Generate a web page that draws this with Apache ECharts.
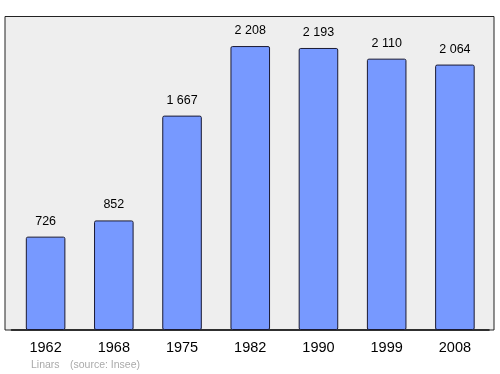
<!DOCTYPE html>
<html><head><meta charset="utf-8">
<script src="https://cdn.jsdelivr.net/npm/echarts@6/dist/echarts.min.js"></script>
<style>html,body{margin:0;padding:0;background:#fff}#c{width:500px;height:374px}</style>
</head><body><div id="c"></div>
<script>
const years = ['1962','1968','1975','1982','1990','1999','2008'];
const population = [726, 852, 1667, 2208, 2193, 2110, 2064];
const fmt = v => String(v).replace(/\B(?=(\d{3})+(?!\d))/g, ' ');
const chart = echarts.init(document.getElementById('c'), null, {renderer:'canvas'});
chart.setOption({
  animation:false,
  backgroundColor:'#ffffff',
  grid:[
    {left:5, right:6, top:16.5, bottom:44, show:true, backgroundColor:'#eeeeee', borderColor:'#222222', borderWidth:1},
    {left:11.5, right:11, top:8.5, bottom:44}
  ],
  xAxis:[
    {gridIndex:0, type:'value', show:false},
    {gridIndex:1, type:'category', data:years,
     axisLine:{show:true, lineStyle:{color:'#111', width:1.5}},
     axisTick:{show:false},
     axisLabel:{color:'#000', fontSize:14.5, fontFamily:'Liberation Sans, Arial, sans-serif', margin:10}}
  ],
  yAxis:[
    {gridIndex:0, type:'value', show:false},
    {gridIndex:1, type:'value', min:0, max:2500, show:false, splitLine:{show:false}}
  ],
  series:[{
    type:'bar', xAxisIndex:1, yAxisIndex:1, data:population, barWidth:'58%',
    itemStyle:{color:'#7799ff', borderColor:'#1a1a33', borderWidth:1, borderRadius:1.5},
    label:{show:true, position:'top', distance:9, color:'#000', fontSize:12.5,
      fontFamily:'Liberation Sans, Arial, sans-serif', formatter:p=>fmt(p.value)}
  }],
  graphic:[
    {type:'text', left:31, top:360, style:{text:'Linars', fill:'#aaaaaa', font:'10.5px Liberation Sans, Arial, sans-serif'}},
    {type:'text', left:70, top:360, style:{text:'(source: Insee)', fill:'#aaaaaa', font:'10.5px Liberation Sans, Arial, sans-serif'}}
  ]
});
</script></body></html>
